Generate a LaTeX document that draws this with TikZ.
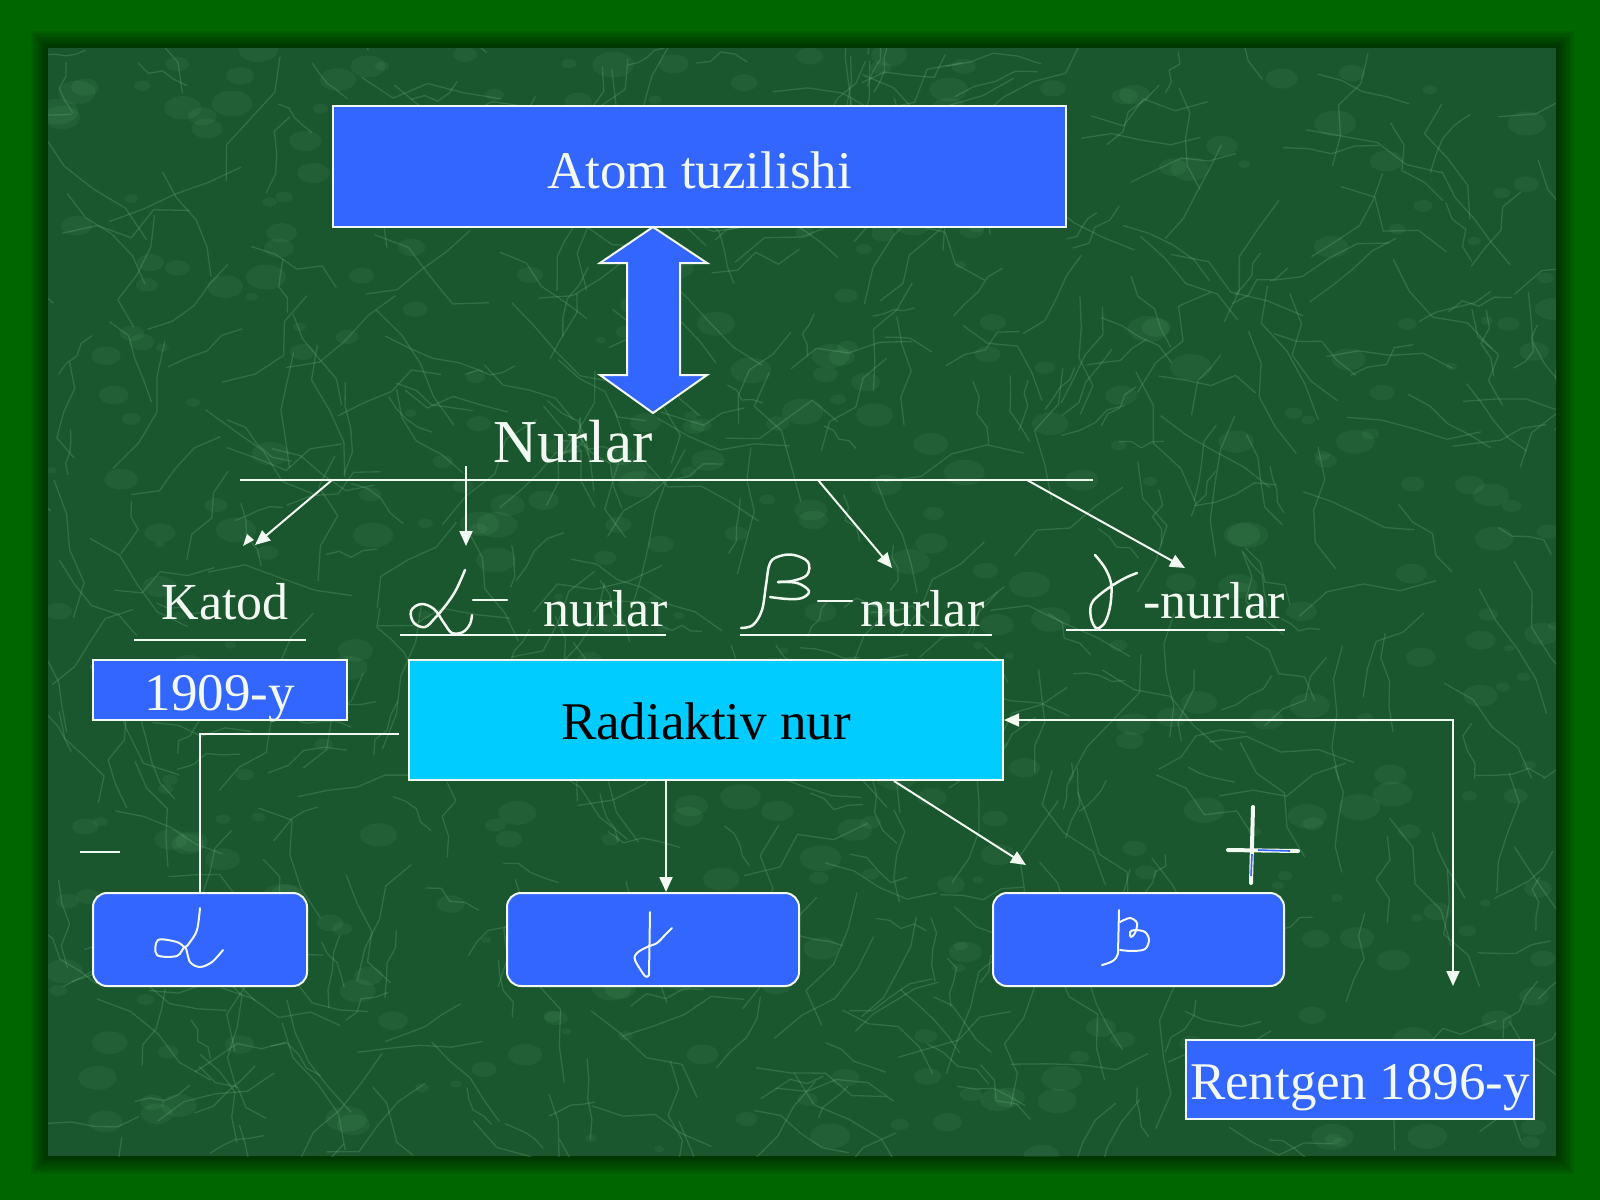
\documentclass[tikz,border=0pt]{standalone}
\usepackage{fontspec}
\setmainfont{Liberation Serif}
\usetikzlibrary{arrows.meta}
\definecolor{frame}{RGB}{0,102,0}
\definecolor{marble}{RGB}{26,86,46}
\definecolor{vein}{RGB}{110,178,128}
\definecolor{boxblue}{RGB}{51,102,255}
\definecolor{cyanbox}{RGB}{0,204,255}
\definecolor{ink}{RGB}{242,248,242}
\tikzset{
  bluebox/.style={draw=ink, line width=2pt, fill=boxblue, text=ink, inner sep=0pt, text depth=0pt, font=\fontsize{53}{60}\selectfont},
  greekbox/.style={draw=ink, line width=2pt, fill=boxblue, rounded corners=14pt, inner sep=0pt, minimum height=93pt},
  wline/.style={draw=ink, line width=2pt},
  warrow/.style={wline, -{Triangle[width=13pt,length=15pt]}},
  hand/.style={draw=ink, line width=2.5pt, line cap=round, line join=round},
  lbl/.style={text=ink, inner sep=0pt, anchor=base, font=\fontsize{52}{60}\selectfont},
  veinline/.style={draw=vein, line width=1.3pt, opacity=0.28, line cap=round, line join=round},
}
\begin{document}
\begin{tikzpicture}[x=1pt,y=-1pt]
\useasboundingbox (0,0) rectangle (1600,1200);
% frame and shadow
\fill[frame] (0,0) rectangle (1600,1200);
\foreach \i in {0,...,7}
  \fill[black,opacity=0.08] (48-2.5*\i,48-2.5*\i) rectangle (1556+2.5*\i,1156+2.5*\i);
% marble texture
\begin{scope}
  \clip (48,48) rectangle (1556,1156);
  \fill[marble] (48,48) rectangle (1556,1156);
  \pgfmathsetseed{42}
  \foreach \k in {1,...,420}{
    \pgfmathsetmacro{\xb}{48+1508*rnd}
    \pgfmathsetmacro{\yb}{48+1108*rnd}
    \pgfmathsetmacro{\rb}{3+10*rnd}
    \fill[vein,opacity=0.10] (\xb,\yb) ellipse ({\rb*1.6} and \rb);
  }
  \foreach \k in {1,...,520}{
    \pgfmathsetmacro{\xa}{48+1508*rnd}
    \pgfmathsetmacro{\ya}{48+1108*rnd}
    \pgfmathsetmacro{\aa}{360*rnd}
    \pgfmathsetmacro{\la}{10+28*rnd}
    \draw[veinline] (\xa,\ya) -- ++(\aa:\la) -- ++(\aa+80*rnd-40:\la) -- ++(\aa+80*rnd-40:\la) -- ++(\aa+80*rnd-40:\la);
  }
\end{scope}

% title
\node[bluebox, minimum width=733pt, minimum height=121pt, text height=43pt] (atom) at (699.5,166.5) {Atom tuzilishi};
% double arrow
\draw[fill=boxblue, draw=ink, line width=2pt, line join=miter]
  (653,227) -- (707,263) -- (680,263) -- (680,375) -- (707,375) -- (653,413)
  -- (600,375) -- (627,375) -- (627,263) -- (600,263) -- cycle;
\node[lbl, font=\fontsize{61}{70}\selectfont] (nurlar) at (573,462) {Nurlar};

% bar and its arrows
\coordinate (barL) at (240,480);
\coordinate (barR) at (1093,480);
\draw[wline] (barL) -- (barR);
\coordinate (b1) at (332,480);
\coordinate (b2) at (466,466);
\coordinate (b3) at (818,480);
\coordinate (b4) at (1027,480);
\coordinate (t1) at (255,545);
\coordinate (t2) at (466,546);
\coordinate (t3) at (892,568);
\coordinate (t4) at (1185,568);
\draw[warrow] (b1) -- (t1);
\draw[warrow] (b2) -- (t2);
\draw[warrow] (b3) -- (t3);
\draw[warrow] (b4) -- (t4);
\fill[ink] (243,546) -- (247,534) -- (254,540) -- cycle;

% Katod
\node[lbl] (katod) at (225,619) {Katod};
\draw[wline] (134,640) -- (306,640);

% alpha - nurlar
\draw[hand] plot[smooth, tension=0.6] coordinates {(465,570) (456,590) (446,605) (435,618) (425,627) (414,623) (411,611) (421,604) (434,609) (444,623) (452,633) (463,632) (470,624) (472,615)};
\draw[hand] (473,600) -- (507,600);
\node[lbl, anchor=base west] (anur) at (543,626) {nurlar};
\draw[wline] (400,635) -- (666,635);

% beta - nurlar
\draw[hand] plot[smooth, tension=0.6] coordinates {(741,628) (753,625) (762,610) (766,585) (770,563) (780,556) (794,555) (808,562) (807,575) (792,581) (778,582)};
\draw[hand] plot[smooth, tension=0.6] coordinates {(778,582) (797,583) (809,591) (802,598) (788,599) (770,597)};
\draw[hand] (818,601) -- (852,601);
\node[lbl, anchor=base west] (bnur) at (860,626) {nurlar};
\draw[wline] (740,635) -- (992,635);

% gamma - nurlar
\draw[hand] plot[smooth, tension=0.6] coordinates {(1095,555) (1105,568) (1111,583) (1111,600) (1108,615) (1103,625) (1096,628) (1091,618) (1091,605) (1097,597) (1110,587) (1125,578) (1137,573)};
\node[lbl, anchor=base west] (gnur) at (1143,618) {-nurlar};
\draw[wline] (1066,630) -- (1285,630);

% 1909-y
\node[bluebox, minimum width=254pt, minimum height=60pt, text height=40pt] (y1909) at (220,690) {1909-y};

% Radiaktiv nur
\node[draw=ink, line width=2pt, fill=cyanbox, text=black, inner sep=0pt, minimum width=594pt, minimum height=120pt, text height=38pt, text depth=0pt, font=\fontsize{53}{60}\selectfont] (rad) at (706,720) {Radiaktiv nur};

% greek boxes
\node[greekbox, minimum width=214pt] (abox) at (200,939.5) {};
\node[greekbox, minimum width=292pt] (gbox) at (653,939.5) {};
\node[greekbox, minimum width=291pt] (bbox) at (1138.5,939.5) {};

% glyphs in boxes
\draw[hand, line width=2pt] plot[smooth, tension=0.55] coordinates {(200,908) (197,930) (190,942) (185,947) (177,942) (158,940) (157,955) (177,956) (185,947) (190,962) (200,967) (212,962) (223,950)};
\draw[hand, line width=2pt] (650,912) -- (649,975);
\draw[hand, line width=2pt] plot[smooth, tension=0.55] coordinates {(649,975) (645,976) (635,960) (637,953) (647,947) (657,943) (665,935) (672,928)};
\draw[hand, line width=2pt] (1119,910) -- (1118,953);
\draw[hand, line width=2pt] plot[smooth, tension=0.55] coordinates {(1118,953) (1116,958) (1111,962) (1102,965)};
\draw[hand, line width=2pt] plot[smooth, tension=0.55] coordinates {(1120,922) (1130,918) (1137,923) (1135,933) (1131,937) (1130,932) (1135,930) (1145,932) (1149,940) (1145,949) (1133,951) (1120,950)};

% small marks
\draw[wline] (80,852) -- (120,852);
\draw[draw=ink, line width=4pt, line cap=round] (1253,807) -- (1251,883);
\draw[draw=ink, line width=4pt, line cap=round] (1228,850) -- (1298,851);
\draw[draw=boxblue, line width=1.6pt] (1252,854) -- (1251,876);
\draw[draw=boxblue, line width=1.6pt] (1258,850) -- (1290,851);

% connectors from Radiaktiv nur
\draw[wline] ([xshift=-9pt,yshift=-14pt]rad.west) -| (abox.north);
\draw[warrow] ([xshift=-40pt]rad.south) -- ([xshift=13pt]gbox.north);
\coordinate (btip) at (1026,865);
\draw[warrow] ([xshift=188pt]rad.south) -- (btip);
\coordinate (rtip) at (1453,986);
\draw[wline, {Triangle[width=13pt,length=15pt]}-{Triangle[width=13pt,length=15pt]}] (rtip) |- (rad.east);

% Rentgen
\node[bluebox, minimum width=348pt, minimum height=79pt, text height=39pt] (rent) at (1360,1079.5) {Rentgen 1896-y};
\end{tikzpicture}
\end{document}
